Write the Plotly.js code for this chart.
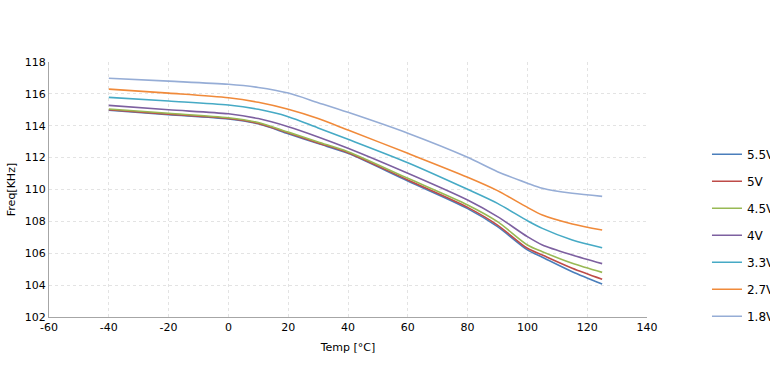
<!DOCTYPE html>
<html>
<head>
<meta charset="utf-8">
<script src="https://cdn.plot.ly/plotly-3.0.1.min.js"></script>
<style>html,body{margin:0;padding:0;background:#fff;}#chart{width:770px;height:376px;}</style>
</head>
<body>
<div id="chart"></div>
<script>
const temps = [-40, -20, 0, 10, 20, 30, 40, 60, 80, 90, 100, 105, 115, 125];
const seriesNames = ['5.5V', '5V', '4.5V', '4V', '3.3V', '2.7V', '1.8V'];
const v55 = [114.98, 114.70, 114.43, 114.12, 113.50, 112.88, 112.27, 110.53, 108.80, 107.67, 106.21, 105.75, 104.84, 104.07];
const v50 = [115.00, 114.72, 114.45, 114.15, 113.55, 112.92, 112.31, 110.60, 108.88, 107.77, 106.31, 105.89, 105.06, 104.37];
const v45 = [115.05, 114.78, 114.50, 114.20, 113.60, 112.98, 112.37, 110.70, 109.03, 107.98, 106.52, 106.10, 105.37, 104.80];
const v40 = [115.28, 115.00, 114.75, 114.45, 113.94, 113.30, 112.59, 111.02, 109.34, 108.30, 107.04, 106.52, 105.89, 105.35];
const v33 = [115.78, 115.55, 115.30, 115.03, 114.57, 113.86, 113.15, 111.68, 110.01, 109.13, 108.04, 107.56, 106.83, 106.35];
const v27 = [116.30, 116.05, 115.76, 115.47, 115.03, 114.45, 113.73, 112.27, 110.77, 109.93, 108.88, 108.40, 107.84, 107.46];
const v18 = [116.98, 116.80, 116.60, 116.40, 116.05, 115.45, 114.84, 113.53, 112.02, 111.12, 110.40, 110.08, 109.76, 109.57];
const seriesValues = [v55, v50, v45, v40, v33, v27, v18];
const colors = ['#4A7EBB', '#BE4B48', '#98B954', '#7D60A0', '#46AAC5', '#F08A3A', '#96ADD6'];
const xTicks = [-60, -40, -20, 0, 20, 40, 60, 80, 100, 120, 140];
const yTicks = [102, 104, 106, 108, 110, 112, 114, 116, 118];

const traces = seriesNames.map((n, i) => ({
  x: temps, y: seriesValues[i], name: n, type: 'scatter', mode: 'lines',
  line: {color: colors[i], width: 1.6, shape: 'spline', smoothing: 0.8},
  legendgroup: 'g' + i
}));

const font = {family: 'Verdana, "DejaVu Sans", sans-serif', size: 11, color: '#000'};
const layout = {
  width: 770, height: 376,
  margin: {l: 49, r: 123, t: 62, b: 59, autoexpand: false},
  paper_bgcolor: '#fff', plot_bgcolor: '#fff',
  font: font,
  showlegend: true,
  legend: {x: 1.1003, xref: 'paper', xanchor: 'left', y: 0.695, yanchor: 'top',
    font: {family: font.family, size: 12, color: '#000'}, tracegroupgap: 8,
    itemwidth: 30, bgcolor: 'rgba(0,0,0,0)'},
  xaxis: {range: [-60, 140], tickvals: xTicks, ticktext: xTicks.map(String),
    showgrid: true, gridcolor: '#e3e3e3', griddash: 'dot', zeroline: false,
    showline: true, linecolor: '#a6a6a6', linewidth: 1, ticks: '',
    title: {text: 'Temp [°C]', font: font, standoff: 10}, mirror: false},
  yaxis: {range: [102, 118], tickvals: yTicks, ticktext: yTicks.map(String),
    showgrid: true, gridcolor: '#e3e3e3', griddash: 'dot', zeroline: false,
    showline: true, linecolor: '#a6a6a6', linewidth: 1, ticks: '',
    title: {text: 'Freq[KHz]', font: font, standoff: 6}}
};
Plotly.newPlot('chart', traces, layout, {displayModeBar: false, staticPlot: true});
</script>
</body>
</html>
